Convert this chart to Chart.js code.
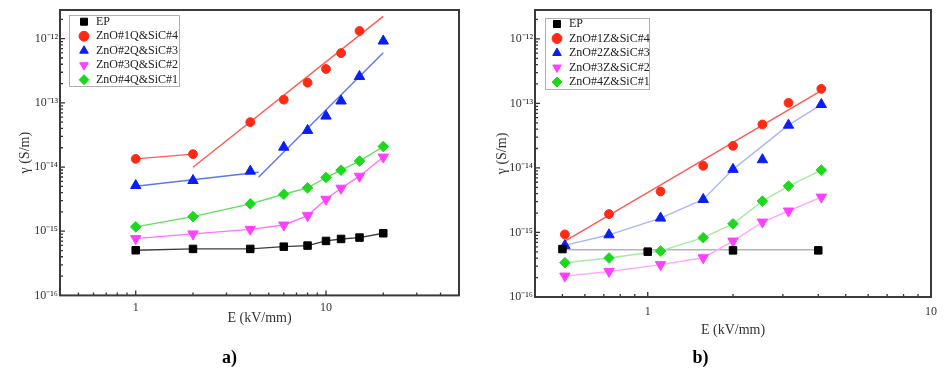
<!DOCTYPE html>
<html>
<head>
<meta charset="utf-8">
<script src="https://cdn.jsdelivr.net/npm/chart.js@4.4.1/dist/chart.umd.min.js"></script>
<style>
  body { margin: 0; background: #fff; }
  #wrapA { position: absolute; left: 0; top: 0; }
  #wrapB { position: absolute; left: 470px; top: 0; }
</style>
</head>
<body>
<div id="wrapA"><canvas id="chartA" width="470" height="371"></canvas></div>
<div id="wrapB"><canvas id="chartB" width="475" height="371"></canvas></div>
<script>
// ---- panel a) data (E in kV/mm, conductivity in S/m)
var aE   = [1, 2, 4, 6, 8, 10, 12, 15, 20];
var aEP  = [5.05e-16, 5.3e-16, 5.3e-16, 5.75e-16, 5.97e-16, 7.06e-16, 7.58e-16, 7.96e-16, 9.3e-16];
var aZ1  = [1.34e-14, 1.59e-14, 5.01e-14, 1.12e-13, 2.06e-13, 3.37e-13, 5.97e-13, 1.32e-12];
var aZ2  = [5.15e-15, 6.17e-15, 8.63e-15, 2.04e-14, 3.72e-14, 6.22e-14, 1.07e-13, 2.58e-13, 9.2e-13];
var aZ3  = [7.67e-16, 9.08e-16, 1.07e-15, 1.25e-15, 1.75e-15, 3.15e-15, 4.68e-15, 7.2e-15, 1.43e-14];
var aZ4  = [1.17e-15, 1.69e-15, 2.67e-15, 3.77e-15, 4.74e-15, 6.87e-15, 8.94e-15, 1.24e-14, 2.09e-14];
// fitted lines in a)
var aZ1LowX = [1, 2],       aZ1LowY = [1.34e-14, 1.59e-14];
var aZ1FitX = [2, 20],      aZ1FitY = [9.95e-15, 2.23e-12];
var aZ2LowX = [1, 4.42],    aZ2LowY = [5.03e-15, 8.3e-15];
var aZ2FitX = [4.42, 20],   aZ2FitY = [6.95e-15, 6.05e-13];
var aLabels = ['EP', 'ZnO#1Q&SiC#4', 'ZnO#2Q&SiC#3', 'ZnO#3Q&SiC#2', 'ZnO#4Q&SiC#1'];

// ---- panel b) data
var bEPx = [0.5, 1, 2, 4];
var bEP  = [5.53e-16, 5.04e-16, 5.28e-16, 5.28e-16];
var bE   = [0.51, 0.73, 1.11, 1.57, 2.0, 2.54, 3.14, 4.1];
var bZ1  = [9.33e-16, 1.93e-15, 4.32e-15, 1.08e-14, 2.2e-14, 4.72e-14, 1.02e-13, 1.68e-13];
var bZ2  = [6.3e-16, 9.2e-16, 1.67e-15, 3.25e-15, 9.5e-15, 1.34e-14, 4.6e-14, 9.6e-14];
var bZ3  = [2.11e-16, 2.49e-16, 3.17e-16, 4.06e-16, 7.36e-16, 1.45e-15, 2.15e-15, 3.53e-15];
var bZ4  = [3.4e-16, 4.02e-16, 5.16e-16, 8.3e-16, 1.36e-15, 3.06e-15, 5.24e-15, 9.25e-15];
// fitted lines in b)
var bEPFitX = [0.5, 4],     bEPFitY = [5.4e-16, 5.4e-16];
var bZ1FitX = [0.51, 4.1],  bZ1FitY = [7.36e-16, 1.58e-13];
var bZ2LineX = [0.51, 0.73, 1.11, 1.57, 2.0, 3.14, 4.1];
var bZ2LineY = [6.3e-16, 9.2e-16, 1.67e-15, 3.25e-15, 9.5e-15, 4.6e-14, 9.6e-14];
var bLabels = ['EP', 'ZnO#1Z&SiC#4', 'ZnO#2Z&SiC#3', 'ZnO#3Z&SiC#2', 'ZnO#4Z&SiC#1'];

var serif = "'Liberation Serif', 'Times New Roman', serif";

function pts(xs, ys) {
  return ys.map(function (y, i) { return { x: xs[i], y: y }; });
}

// marker shapes
var SQ  = { shape: 'rect', rot: 0, r: 5.3 };
var CI  = { shape: 'circle', rot: 0, r: 4.4 };
var TU  = { shape: 'triangle', rot: 0, r: 6 };
var TD  = { shape: 'triangle', rot: 180, r: 6 };
var DI  = { shape: 'rectRot', rot: 0, r: 5.3 };

function markers(label, xs, ys, st, color, lineColor) {
  return {
    label: label,
    data: pts(xs, ys),
    showLine: !!lineColor,
    borderColor: lineColor || color,
    borderWidth: 1.4,
    pointStyle: st.shape,
    pointRotation: st.rot,
    pointRadius: st.r,
    pointBackgroundColor: color,
    pointBorderColor: color,
    pointBorderWidth: 1
  };
}

function line(xs, ys, color) {
  return {
    label: 'fit',
    data: pts(xs, ys),
    borderColor: color,
    borderWidth: 1.4,
    pointRadius: 0,
    fill: false
  };
}

var supMap = { '-': '\u207B', '0': '\u2070', '1': '\u00B9', '2': '\u00B2', '3': '\u00B3',
  '4': '\u2074', '5': '\u2075', '6': '\u2076', '7': '\u2077', '8': '\u2078', '9': '\u2079' };

function isDecade(v) {
  var e = Math.log10(v);
  return Math.abs(e - Math.round(e)) < 1e-6;
}

function powLabel(v) {
  if (!isDecade(v)) return '';
  var e = String(Math.round(Math.log10(v)));
  return '10' + e.split('').map(function (c) { return supMap[c]; }).join('');
}

function xLabel(v) {
  return isDecade(v) ? String(Math.round(v)) : '';
}

// frame, inward ticks, legend placement and legend box
var framePlugin = {
  id: 'frame',
  afterLayout: function (chart, args, o) {
    var lg = chart.legend, a = chart.chartArea;
    if (!lg) return;
    lg.left = a.left + o.legendX;
    lg.top = a.top + o.legendY;
    lg.right = lg.left + lg.width;
    lg.bottom = a.bottom;
  },
  beforeDraw: function (chart, args, o) {
    var ctx = chart.ctx, a = chart.chartArea, b = o.box;
    ctx.save();
    ctx.fillStyle = '#fff';
    ctx.fillRect(a.left + b[0], a.top + b[1], b[2], b[3]);
    ctx.strokeStyle = '#b0b0b0';
    ctx.lineWidth = 1;
    ctx.strokeRect(a.left + b[0] + 0.5, a.top + b[1] + 0.5, b[2], b[3]);
    ctx.restore();
  },
  afterDatasetsDraw: function (chart) {
    var ctx = chart.ctx, a = chart.chartArea, xs = chart.scales.x, ys = chart.scales.y;
    var d, m, v, p, len;
    ctx.save();
    ctx.strokeStyle = '#333';
    ctx.lineWidth = 1.3;
    ctx.beginPath();
    for (d = -2; d <= 2; d++) {
      for (m = 1; m <= 9; m++) {
        v = m * Math.pow(10, d);
        if (v <= xs.min * 1.001 || v >= xs.max * 0.999) continue;
        p = xs.getPixelForValue(v);
        len = m === 1 ? 5 : 3;
        ctx.moveTo(p, a.bottom);
        ctx.lineTo(p, a.bottom - len);
      }
    }
    for (d = -17; d <= -11; d++) {
      for (m = 1; m <= 9; m++) {
        v = m * Math.pow(10, d);
        if (v <= ys.min * 1.001 || v >= ys.max * 0.999) continue;
        p = ys.getPixelForValue(v);
        len = m === 1 ? 5 : 3;
        ctx.moveTo(a.left, p);
        ctx.lineTo(a.left + len, p);
      }
    }
    ctx.stroke();
    ctx.lineWidth = 2;
    ctx.strokeStyle = '#3a3a3a';
    ctx.strokeRect(a.left, a.top, a.right - a.left, a.bottom - a.top);
    ctx.restore();
  }
};

function buildChart(id, p) {
  return new Chart(document.getElementById(id), {
    type: 'line',
    data: { datasets: p.datasets },
    options: {
      responsive: false,
      animation: false,
      layout: { padding: { left: 0, right: p.padRight, top: 10, bottom: 0 } },
      scales: {
        x: {
          type: 'logarithmic',
          min: p.xMin,
          max: p.xMax,
          grid: { display: false, drawTicks: false },
          border: { display: false },
          afterFit: function (s) { s.height = p.xAxisH; },
          ticks: {
            autoSkip: false, maxRotation: 0, padding: p.xTickPad,
            color: '#333', font: { family: serif, size: 12 },
            callback: xLabel
          },
          title: {
            display: true, text: 'E (kV/mm)', color: '#333',
            font: { family: serif, size: 14 },
            padding: { top: 0, bottom: p.xTitlePad }
          }
        },
        y: {
          type: 'logarithmic',
          min: 1e-16,
          max: 2.8e-12,
          grid: { display: false, drawTicks: false },
          border: { display: false },
          afterFit: function (s) { s.width = p.yAxisW; },
          ticks: {
            autoSkip: false, padding: 2,
            color: '#333', font: { family: serif, size: 12 },
            callback: powLabel
          },
          title: {
            display: true, text: '\u03B3 (S/m)', color: '#333',
            font: { family: serif, size: 14 },
            padding: { top: p.yTitlePad, bottom: 0 }
          }
        }
      },
      plugins: {
        legend: {
          position: 'chartArea',
          align: 'start',
          fullSize: false,
          labels: {
            usePointStyle: true, boxHeight: 7, padding: 2.5,
            color: '#222', font: { family: serif, size: 12 },
            filter: function (it) { return it.datasetIndex < 5; }
          }
        },
        title: {
          display: true, position: 'bottom', text: p.title, color: '#000',
          font: { family: serif, size: 18, weight: 'bold' },
          padding: { top: p.titleTop, bottom: p.titleBottom }
        },
        tooltip: { enabled: false },
        frame: { legendX: p.legendX, legendY: p.legendY, box: p.box }
      }
    },
    plugins: [framePlugin]
  });
}

buildChart('chartA', {
  title: 'a)',
  xMin: 0.4, xMax: 50,
  padRight: 11, yAxisW: 60, xAxisH: 40,
  xTickPad: 5, xTitlePad: 8.6, yTitlePad: 17,
  titleTop: 12, titleBottom: 2,
  legendX: 15.5, legendY: 3.2, box: [9, 5, 110, 71],
  datasets: [
    markers(aLabels[0], aE, aEP, SQ, '#000000', '#3c3c3c'),
    markers(aLabels[1], aE, aZ1, CI, '#ff2a14'),
    markers(aLabels[2], aE, aZ2, TU, '#0a1ef5'),
    markers(aLabels[3], aE, aZ3, TD, '#ff40ff', '#ff70ff'),
    markers(aLabels[4], aE, aZ4, DI, '#1ed81e', '#5ee05e'),
    line(aZ1LowX, aZ1LowY, '#ff5a50'),
    line(aZ1FitX, aZ1FitY, '#ff5a50'),
    line(aZ2LowX, aZ2LowY, '#5a78f0'),
    line(aZ2FitX, aZ2FitY, '#5a78f0')
  ]
});

buildChart('chartB', {
  title: 'b)',
  xMin: 0.4, xMax: 10,
  padRight: 14, yAxisW: 65, xAxisH: 46,
  xTickPad: 7.5, xTitlePad: 4.6, yTitlePad: 23.6,
  titleTop: 4.2, titleBottom: 2.2,
  legendX: 13.5, legendY: 5.5, box: [10, 8, 104, 71],
  datasets: [
    markers(bLabels[0], bEPx, bEP, SQ, '#000000'),
    markers(bLabels[1], bE, bZ1, CI, '#ff2a14'),
    markers(bLabels[2], bE, bZ2, TU, '#0a1ef5'),
    markers(bLabels[3], bE, bZ3, TD, '#ff40ff', '#ffa8ff'),
    markers(bLabels[4], bE, bZ4, DI, '#1ed81e', '#a6eaa6'),
    line(bEPFitX, bEPFitY, '#b4b4b4'),
    line(bZ1FitX, bZ1FitY, '#ff5a50'),
    line(bZ2LineX, bZ2LineY, '#aab6f5')
  ]
});
</script>
</body>
</html>
